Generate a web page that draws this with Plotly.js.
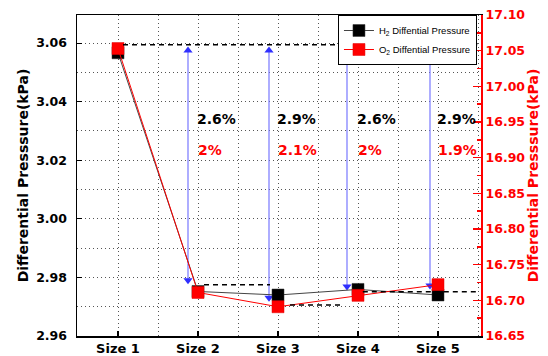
<!DOCTYPE html>
<html>
<head>
<meta charset="utf-8">
<script src="https://cdn.plot.ly/plotly-3.0.1.min.js"></script>
<style>
  html, body { margin: 0; padding: 0; background: #fff; }
  #chart { width: 548px; height: 356px; }
</style>
</head>
<body>
<div id="chart"></div>
<script>
// Channel sizes and measured differential pressures (kPa)
const sizeLabels = ['Size 1', 'Size 2', 'Size 3', 'Size 4', 'Size 5'];
const sizePos = [1, 2, 3, 4, 5];
const h2Pressure = [3.0567, 2.9752, 2.9740, 2.9759, 2.9740];
const o2Pressure = [17.053, 16.711, 16.691, 16.707, 16.722];

// Relative drop versus Size 1, written next to each size
const dropPos = [2, 3, 4, 5];
const h2DropText = ['2.6%', '2.9%', '2.6%', '2.9%'];
const o2DropText = ['2%', '2.1%', '2%', '1.9%'];

// Dashed guide levels (left axis units) and their x spans
const guideLevel = [3.0594, 2.9775, 2.9706, 2.9751];
const guideStart = [1.0625, 2.075, 3.15, 4.06];
const guideEnd = [5.49, 2.9, 3.8, 5.49];

// Double-headed arrows: x position, top and bottom (left axis units)
const arrowX = [1.875, 2.8875, 3.8625, 4.9];
const arrowTop = [3.0575, 3.0575, 3.0575, 3.0575];
const arrowBottom = [2.9790, 2.9731, 2.9769, 2.9772];

const FONT = 'DejaVu Sans, Verdana, sans-serif';
const GRID_COLOR = '#555';
const GRID_DASH = '1px,3px';

// Arrow shafts as one broken line, heads as triangle markers at both ends
const shaftX = [], shaftY = [], headX = [], headY = [], headSym = [];
arrowX.forEach((ax, i) => {
  shaftX.push(ax, ax, null);
  shaftY.push(arrowTop[i], arrowBottom[i], null);
  headX.push(ax, ax);
  headY.push(arrowTop[i], arrowBottom[i]);
  headSym.push('triangle-up', 'triangle-down');
});

const traces = [
  {
    x: shaftX, y: shaftY, yaxis: 'y', type: 'scatter', mode: 'lines',
    line: { color: '#7777ff', width: 1.2 }, showlegend: false, hoverinfo: 'skip'
  },
  {
    x: headX, y: headY, yaxis: 'y', type: 'scatter', mode: 'markers',
    marker: { symbol: headSym, size: 8, color: '#2f2fff', line: { width: 0 } },
    showlegend: false, hoverinfo: 'skip'
  },
  {
    x: sizePos, y: h2Pressure, yaxis: 'y', type: 'scatter', mode: 'lines+markers',
    name: 'H<sub>2</sub> Diffential Pressure',
    line: { color: '#444', width: 1 },
    marker: { symbol: 'square', size: 12, color: '#000', line: { color: '#333', width: 0.5 } }
  },
  {
    x: sizePos, y: o2Pressure, yaxis: 'y2', type: 'scatter', mode: 'lines+markers',
    name: 'O<sub>2</sub> Diffential Pressure',
    line: { color: '#ff0000', width: 1 },
    marker: { symbol: 'square', size: 12, color: '#ff0000', line: { color: '#e00000', width: 0.5 } }
  }
];

const shapes = guideLevel.map((lv, i) => ({
  type: 'line', xref: 'x', yref: 'y',
  x0: guideStart[i], x1: guideEnd[i], y0: lv, y1: lv,
  line: { color: '#000', width: 1.5, dash: '5px,4px' }
}));

const annotations = [];
dropPos.forEach((p, i) => {
  annotations.push({
    xref: 'x', yref: 'y', x: p - 0.04, y: 3.034, xanchor: 'left', yanchor: 'middle',
    text: h2DropText[i], showarrow: false,
    font: { family: FONT, size: 14, color: '#000', weight: 'bold' }
  });
  annotations.push({
    xref: 'x', yref: 'y', x: p - 0.02, y: 3.0234, xanchor: 'left', yanchor: 'middle',
    text: o2DropText[i], showarrow: false,
    font: { family: FONT, size: 14, color: '#ff0000', weight: 'bold' }
  });
});

const layout = {
  width: 548, height: 356,
  margin: { l: 77, r: 67, t: 15, b: 20, pad: 0 },
  paper_bgcolor: '#fff', plot_bgcolor: '#fff',
  showlegend: true,
  legend: {
    x: 0.99, y: 1.0, xanchor: 'right', yanchor: 'top',
    bgcolor: '#fff', bordercolor: '#000', borderwidth: 1,
    font: { family: 'Liberation Sans, Arial, sans-serif', size: 9.5, color: '#000' },
    tracegroupgap: 0, itemwidth: 30
  },
  xaxis: {
    range: [0.4875, 5.5375],
    tickvals: sizePos, ticktext: sizeLabels,
    ticks: 'inside', ticklen: 5, tickcolor: '#000', tickwidth: 1.5,
    showline: true, linecolor: '#000', linewidth: 1.5, mirror: true,
    showgrid: true, gridcolor: GRID_COLOR, griddash: GRID_DASH, gridwidth: 1,
    minor: { tick0: 0.5, dtick: 0.5, showgrid: true, gridcolor: GRID_COLOR, griddash: GRID_DASH, ticklen: 0 },
    zeroline: false, automargin: false,
    tickfont: { family: FONT, size: 13, color: '#000', weight: 'bold' }
  },
  yaxis: {
    range: [2.96, 3.0696],
    tick0: 2.96, dtick: 0.02, tickformat: '.2f',
    ticks: 'inside', ticklen: 5, tickcolor: '#000',
    ticklabelstandoff: 6,
    showline: true, linecolor: '#000', linewidth: 1.5,
    showgrid: true, gridcolor: GRID_COLOR, griddash: GRID_DASH, gridwidth: 1,
    minor: { dtick: 0.01, showgrid: true, gridcolor: GRID_COLOR, griddash: GRID_DASH, ticklen: 0 },
    zeroline: false, automargin: false,
    tickfont: { family: FONT, size: 12.5, color: '#000', weight: 'bold' },
    title: { text: 'Differential Presssure(kPa)', standoff: 4,
             font: { family: FONT, size: 14, color: '#000', weight: 'bold' } }
  },
  yaxis2: {
    overlaying: 'y', side: 'right',
    range: [16.65, 17.10],
    tick0: 16.65, dtick: 0.05, tickformat: '.2f',
    ticks: 'inside', ticklen: 8, tickcolor: '#ff0000', tickwidth: 1.5,
    showline: true, linecolor: '#ff0000', linewidth: 2,
    showgrid: false, zeroline: false, automargin: false,
    minor: { dtick: 0.025, ticks: 'inside', ticklen: 4, tickcolor: '#ff0000', showgrid: false },
    tickfont: { family: FONT, size: 12.5, color: '#ff0000', weight: 'bold' },
    title: { text: 'Differential Presssure(kPa)', standoff: 2,
             font: { family: FONT, size: 14, color: '#ff0000', weight: 'bold' } }
  },
  shapes: shapes,
  annotations: annotations
};

Plotly.newPlot('chart', traces, layout, { staticPlot: true, displayModeBar: false });
</script>
</body>
</html>
